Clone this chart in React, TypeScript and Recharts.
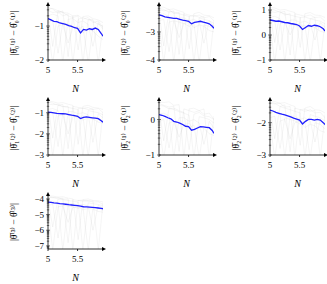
import React from "react";
import { LineChart, Line, XAxis, YAxis, ReferenceDot } from "recharts";

// x positions (log10 N)
const blueN = [5.0, 5.05, 5.1, 5.15, 5.2, 5.25, 5.3, 5.35, 5.4, 5.45, 5.5, 5.55, 5.6, 5.65, 5.7, 5.75, 5.8, 5.85, 5.9, 5.93];
const grayN = [5.0, 5.08, 5.17, 5.25, 5.34, 5.42, 5.51, 5.59, 5.68, 5.76, 5.85, 5.93];
const xTicks = [5, 5.5];

// blue mean curves
const blue1 = [-0.78, -0.82, -0.86, -0.87, -0.91, -0.93, -0.95, -0.99, -1.01, -1.05, -1.07, -1.2, -1.1, -1.12, -1.08, -1.1, -1.06, -1.1, -1.22, -1.3];
const blue2 = [-2.39, -2.42, -2.46, -2.48, -2.5, -2.52, -2.52, -2.55, -2.58, -2.6, -2.62, -2.71, -2.66, -2.64, -2.62, -2.65, -2.68, -2.71, -2.8, -2.87];
const blue3 = [0.6, 0.58, 0.55, 0.56, 0.53, 0.5, 0.49, 0.46, 0.44, 0.42, 0.36, 0.22, 0.3, 0.38, 0.35, 0.39, 0.37, 0.33, 0.25, 0.16];
const blue4 = [-0.97, -0.99, -1.01, -1.03, -1.04, -1.05, -1.06, -1.09, -1.12, -1.14, -1.17, -1.28, -1.22, -1.2, -1.22, -1.24, -1.26, -1.28, -1.38, -1.45];
const blue5 = [0.14, 0.12, 0.09, 0.05, 0.02, -0.05, -0.07, -0.1, -0.14, -0.19, -0.2, -0.3, -0.28, -0.24, -0.2, -0.21, -0.22, -0.23, -0.31, -0.39];
const blue6 = [-1.61, -1.64, -1.68, -1.71, -1.74, -1.76, -1.79, -1.82, -1.86, -1.89, -1.92, -2.04, -1.96, -1.9, -1.9, -1.92, -1.9, -1.92, -2.0, -2.06];
const blue7 = [-4.2, -4.22, -4.25, -4.27, -4.3, -4.32, -4.34, -4.37, -4.39, -4.41, -4.43, -4.46, -4.5, -4.51, -4.52, -4.54, -4.56, -4.58, -4.61, -4.63];

// gray individual runs
const gray1 = [
  [-0.45, -0.5, -0.62, -0.55, -1.9, -0.7, -0.68, -0.8, -0.75, -0.9, -0.85, -1.05],
  [-0.6, -1.6, -0.55, -0.6, -0.7, -0.75, -0.7, -2.1, -0.8, -0.85, -0.95, -1.0],
  [-0.7, -0.65, -0.7, -2.1, -0.8, -0.78, -0.9, -0.85, -0.95, -1.6, -0.9, -1.1],
  [-0.55, -0.6, -0.58, -0.7, -0.65, -2.1, -0.8, -0.75, -0.82, -0.8, -2.1, -0.95],
  [-0.9, -0.85, -1.8, -0.9, -0.95, -1.0, -1.1, -1.0, -2.1, -1.05, -1.1, -1.25],
  [-0.5, -0.48, -0.55, -0.6, -0.62, -0.7, -1.7, -0.72, -0.7, -0.78, -0.82, -0.9],
  [-1.1, -2.1, -1.0, -0.95, -1.5, -1.05, -1.0, -1.2, -1.1, -1.15, -1.3, -1.4],
];
const gray2 = [
  [-2.15, -2.2, -2.3, -2.25, -3.8, -2.35, -2.4, -2.45, -2.4, -2.5, -2.45, -2.6],
  [-2.3, -3.5, -2.25, -2.3, -2.35, -2.4, -2.45, -4.1, -2.5, -2.55, -2.6, -2.7],
  [-2.4, -2.35, -2.45, -4.1, -2.5, -2.5, -2.6, -2.55, -2.65, -3.4, -2.6, -2.8],
  [-2.2, -2.25, -2.2, -2.35, -2.3, -4.1, -2.45, -2.4, -2.48, -2.45, -4.1, -2.6],
  [-2.6, -2.55, -3.7, -2.6, -2.65, -2.7, -2.8, -2.7, -4.1, -2.75, -2.8, -2.9],
  [-2.1, -2.12, -2.2, -2.18, -2.25, -2.3, -3.6, -2.35, -2.3, -2.4, -2.42, -2.5],
  [-2.7, -4.1, -2.65, -2.6, -3.2, -2.7, -2.65, -2.85, -2.75, -2.8, -2.95, -3.0],
];
const gray3 = [
  [1.05, 1.0, 0.9, 0.95, -0.8, 0.85, 0.8, 0.75, 0.8, 0.7, 0.72, 0.55],
  [0.85, -0.3, 0.9, 0.85, 0.8, 0.75, 0.7, -1.1, 0.65, 0.6, 0.55, 0.45],
  [0.7, 0.75, 0.65, -1.1, 0.6, 0.6, 0.5, 0.55, 0.45, -0.2, 0.5, 0.3],
  [0.95, 0.9, 0.95, 0.8, 0.85, -1.1, 0.7, 0.72, 0.65, 0.7, -1.1, 0.5],
  [0.5, 0.55, -0.6, 0.5, 0.45, 0.4, 0.3, 0.4, -1.1, 0.35, 0.3, 0.2],
  [1.1, 1.08, 1.0, 1.02, 0.95, 0.9, -0.5, 0.85, 0.9, 0.8, 0.78, 0.7],
  [0.4, -1.1, 0.45, 0.5, 0.0, 0.4, 0.45, 0.25, 0.35, 0.3, 0.15, 0.1],
];
const gray4 = [
  [-0.5, -0.55, -0.65, -0.6, -2.7, -0.7, -0.75, -0.8, -0.75, -0.85, -0.8, -1.0],
  [-0.7, -2.2, -0.65, -0.7, -0.75, -0.8, -0.85, -3.1, -0.9, -0.95, -1.0, -1.1],
  [-0.85, -0.8, -0.9, -3.1, -0.95, -0.95, -1.05, -1.0, -1.1, -2.4, -1.05, -1.25],
  [-0.6, -0.62, -0.6, -0.72, -0.7, -3.1, -0.8, -0.78, -0.85, -0.82, -3.1, -0.95],
  [-1.05, -1.0, -2.6, -1.05, -1.1, -1.15, -1.25, -1.15, -3.1, -1.2, -1.25, -1.4],
  [-0.45, -0.48, -0.55, -0.52, -0.6, -0.65, -2.5, -0.7, -0.65, -0.75, -0.78, -0.85],
  [-1.2, -3.1, -1.15, -1.1, -2.0, -1.2, -1.15, -1.35, -1.25, -1.3, -1.45, -1.5],
];
const gray5 = [
  [0.45, 0.4, 0.35, 0.38, -0.9, 0.3, 0.25, 0.2, 0.25, 0.15, 0.18, 0.0],
  [0.3, -0.6, 0.32, 0.28, 0.22, 0.18, 0.12, -1.1, 0.08, 0.05, 0.0, -0.1],
  [0.15, 0.18, 0.1, -1.1, 0.05, 0.05, -0.05, 0.0, -0.1, -0.7, -0.05, -0.25],
  [0.5, 0.48, 0.5, 0.4, 0.42, -1.1, 0.3, 0.32, 0.25, 0.3, -1.1, 0.1],
  [-0.05, 0.0, -0.8, -0.05, -0.1, -0.15, -0.25, -0.15, -1.1, -0.2, -0.25, -0.35],
  [0.4, 0.38, 0.3, 0.32, 0.25, 0.2, -0.85, 0.15, 0.2, 0.1, 0.08, 0.0],
  [-0.15, -1.1, -0.1, -0.05, -0.5, -0.15, -0.1, -0.3, -0.2, -0.25, -0.4, -0.45],
];
const gray6 = [
  [-1.35, -1.4, -1.5, -1.45, -2.9, -1.55, -1.6, -1.65, -1.6, -1.7, -1.68, -1.85],
  [-1.55, -2.5, -1.5, -1.55, -1.6, -1.65, -1.7, -3.1, -1.75, -1.8, -1.85, -1.95],
  [-1.7, -1.65, -1.75, -3.1, -1.8, -1.8, -1.9, -1.85, -1.95, -2.6, -1.9, -2.1],
  [-1.4, -1.42, -1.4, -1.52, -1.5, -3.1, -1.6, -1.58, -1.65, -1.62, -3.1, -1.75],
  [-1.85, -1.8, -2.8, -1.85, -1.9, -1.95, -2.05, -1.95, -3.1, -2.0, -2.05, -2.2],
  [-1.32, -1.35, -1.4, -1.38, -1.45, -1.5, -2.7, -1.55, -1.5, -1.6, -1.62, -1.7],
  [-2.0, -3.1, -1.95, -1.9, -2.5, -2.0, -1.95, -2.15, -2.05, -2.1, -2.25, -2.3],
];
const gray7 = [
  [-3.85, -3.9, -4.0, -3.95, -6.8, -4.05, -4.1, -4.15, -4.1, -4.2, -4.18, -4.35],
  [-4.05, -5.8, -4.0, -4.05, -4.1, -4.15, -4.2, -7.3, -4.25, -4.3, -4.35, -4.45],
  [-4.2, -4.15, -4.25, -7.3, -4.3, -4.3, -4.4, -4.35, -4.45, -6.0, -4.4, -4.6],
  [-3.9, -3.92, -3.9, -4.02, -4.0, -7.3, -4.1, -4.08, -4.15, -4.12, -7.3, -4.25],
  [-4.4, -4.35, -6.5, -4.4, -4.45, -4.5, -4.6, -4.5, -7.3, -4.55, -4.6, -4.75],
  [-3.8, -3.82, -3.88, -3.86, -3.95, -4.0, -6.6, -4.05, -4.0, -4.1, -4.12, -4.2],
  [-4.55, -7.3, -4.5, -4.45, -5.5, -4.55, -4.5, -4.7, -4.6, -4.65, -4.8, -4.85],
];

const labels = [
  "|θ̄₀⁽¹⁾ − θ̂₀⁽¹⁾|",
  "|θ̄₀⁽²⁾ − θ̂₀⁽²⁾|",
  "|θ̄₁⁽¹⁾ − θ̂₁⁽¹⁾|",
  "|θ̄₁⁽²⁾ − θ̂₁⁽²⁾|",
  "|θ̄₂⁽¹⁾ − θ̂₂⁽¹⁾|",
  "|θ̄₂⁽²⁾ − θ̂₂⁽²⁾|",
  "|θ̄⁽³⁾ − θ̂⁽³⁾|",
];
const yTicks = [[-2, -1], [-4, -3], [-1, 0, 1], [-3, -2, -1], [-1, 0], [-3, -2], [-7, -6, -5, -4]];
const yDomains = [[-2, -0.38], [-4, -2.04], [-1, 1.2], [-3, -0.4], [-1, 0.55], [-3, -1.3], [-7.2, -3.75]];
const blues = [blue1, blue2, blue3, blue4, blue5, blue6, blue7];
const grays = [gray1, gray2, gray3, gray4, gray5, gray6, gray7];

const FONT = "'Liberation Serif', 'DejaVu Serif', serif";
const X_MAX = 5.93;

function withMinor(major: number[], dom: number[]) {
  const out: number[] = [...major];
  for (let k = Math.floor(dom[0]) - 1; k <= Math.ceil(dom[1]); k++) {
    for (let m = 2; m <= 9; m++) {
      const v = k + Math.log10(m);
      if (v > dom[0] && v < dom[1]) out.push(v);
    }
  }
  return out;
}

const YTick = (props: any) => {
  const { x, y, payload, majors } = props;
  const v = payload.value;
  const isMajor = majors.includes(v);
  const ax = x + 3;
  return (
    <g>
      <line x1={ax - (isMajor ? 2 : 1.2)} x2={ax + (isMajor ? 2 : 1.2)} y1={y} y2={y} stroke="#000" strokeWidth={0.5} />
      {isMajor && (
        <text x={x - 1} y={y} textAnchor="end" dominantBaseline="central" fontSize={9} fontFamily={FONT} fill="#000">
          {v < 0 ? "\u2212" + Math.abs(v) : String(v)}
        </text>
      )}
    </g>
  );
};

const UpArrow = (p: any) => (
  <path d={`M${p.cx},${p.cy - 3} L${p.cx - 2},${p.cy + 1} L${p.cx + 2},${p.cy + 1} Z`} fill="#000" />
);
const RightArrow = (p: any) => (
  <path d={`M${p.cx + 3},${p.cy} L${p.cx - 1},${p.cy - 2} L${p.cx - 1},${p.cy + 2} Z`} fill="#000" />
);

function Panel({ i, left, top, topMargin }: { i: number; left: number; top: number; topMargin: number }) {
  const dom = yDomains[i];
  const blueData = blueN.map((x, j) => ({ x, y: blues[i][j] }));
  const grayData = grays[i].map((g) => grayN.map((x, j) => ({ x, y: g[j] })));
  const plotH = 95 - topMargin - 35;
  return (
    <div style={{ position: "absolute", left, top, width: 109, height: 95 }}>
      <div
        style={{
          position: "absolute",
          left: 14 - 45,
          top: topMargin + plotH / 2 - 6,
          width: 90,
          height: 12,
          lineHeight: "12px",
          textAlign: "center",
          transform: "rotate(-90deg)",
          fontFamily: FONT,
          fontSize: 9.5,
          whiteSpace: "nowrap",
        }}
      >
        {labels[i]}
      </div>
      <LineChart width={109} height={95} margin={{ top: topMargin, right: 6, bottom: 0, left: 0 }}>
        <XAxis
          dataKey="x"
          type="number"
          domain={[5, X_MAX]}
          allowDataOverflow
          ticks={xTicks}
          tickFormatter={(v: number) => String(v)}
          height={35}
          tickSize={2}
          tickMargin={5}
          stroke="#000"
          strokeWidth={0.8}
          tick={{ fontSize: 9, fontFamily: FONT, fill: "#000" }}
          label={{ value: "N", position: "insideBottom", offset: 3, fontSize: 10, fontFamily: FONT, fontStyle: "italic", fill: "#000" }}
        />
        <YAxis
          type="number"
          domain={dom}
          allowDataOverflow
          ticks={withMinor(yTicks[i], dom)}
          interval={0}
          width={48}
          tickSize={0}
          tickMargin={3}
          stroke="#000"
          strokeWidth={0.8}
          tickLine={false}
          tick={<YTick majors={yTicks[i]} />}
        />
        {grayData.map((d, k) => (
          <Line
            key={k}
            data={d}
            dataKey="y"
            type="linear"
            stroke="#a0a0a0"
            strokeOpacity={0.22}
            strokeWidth={0.5}
            dot={false}
            isAnimationActive={false}
          />
        ))}
        <Line data={blueData} dataKey="y" type="linear" stroke="#1f1fff" strokeWidth={1.3} dot={false} isAnimationActive={false} />
        <ReferenceDot x={5} y={dom[1]} r={0} ifOverflow="visible" shape={UpArrow} />
        <ReferenceDot x={X_MAX} y={dom[0]} r={0} ifOverflow="visible" shape={RightArrow} />
      </LineChart>
    </div>
  );
}

const positions = [
  [0, 0, 5],
  [111, 0, 5],
  [222, 0, 5],
  [0, 95, 5],
  [111, 95, 5],
  [222, 95, 5],
  [0, 189, 6],
];

export default function App() {
  return (
    <div style={{ position: "absolute", left: 0, top: 0, width: 327, height: 284, overflow: "hidden", background: "#fff" }}>
      {positions.map(([l, t, m], i) => (
        <Panel key={i} i={i} left={l} top={t} topMargin={m} />
      ))}
    </div>
  );
}
